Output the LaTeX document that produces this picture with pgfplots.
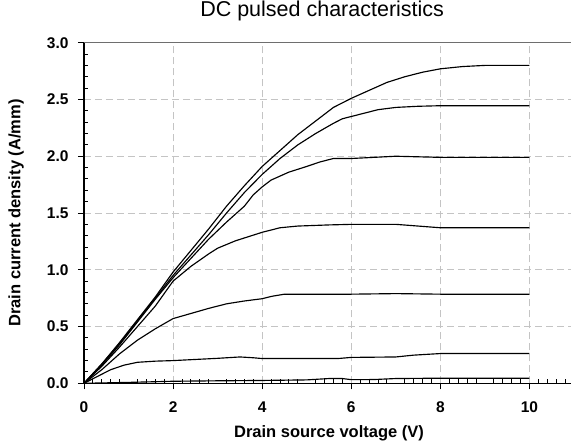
\documentclass[border=0pt]{standalone}
\usepackage{fontspec}
\setmainfont{Liberation Sans}
\usepackage{pgfplots}
\pgfplotsset{compat=1.18}
\definecolor{gridgray}{RGB}{196,196,196}
\definecolor{topgray}{RGB}{110,110,110}
\begin{document}
\begin{tikzpicture}
\useasboundingbox (-84pt,-58.7pt) rectangle (487pt,383.3pt);
\begin{axis}[
  scale only axis,
  width=490pt, height=340.6pt,
  xmin=0, xmax=11, ymin=0, ymax=3,
  axis x line*=bottom, axis y line*=left,
  axis line style={black, line width=1.4pt},
  xtick={0,2,4,6,8,10}, ytick={0,0.5,1,1.5,2,2.5,3},
  tick align=outside,
  major tick length=6pt,
  tick style={black, line width=0.9pt},
  grid=major,
  major grid style={gridgray, line width=0.9pt, dash pattern=on 7pt off 4pt},
  extra x ticks={0.2,0.4,0.6,0.8,1.2,1.4,1.6,1.8,2.2,2.4,2.6,2.8,3.2,3.4,3.6,3.8,4.2,4.4,4.6,4.8,5.2,5.4,5.6,5.8,6.2,6.4,6.6,6.8,7.2,7.4,7.6,7.8,8.2,8.4,8.6,8.8,9.2,9.4,9.6,9.8,10.2,10.4,10.6,10.8},
  extra x tick labels={},
  extra x tick style={grid=none, tick align=inside, major tick length=4pt},
  extra y ticks={0.1,0.2,0.3,0.4,0.6,0.7,0.8,0.9,1.1,1.2,1.3,1.4,1.6,1.7,1.8,1.9,2.1,2.2,2.3,2.4,2.6,2.7,2.8,2.9},
  extra y tick labels={},
  extra y tick style={grid=none, tick align=inside, major tick length=4pt},
  /pgf/number format/assume math mode=true,
  ticklabel style={font=\fontsize{15.5}{15.5}\selectfont\bfseries},
  yticklabel style={xshift=-6pt, /pgf/number format/.cd, fixed, fixed zerofill, precision=1},
  xticklabel style={yshift=-9pt, /pgf/number format/.cd, fixed, precision=0},
  title={DC pulsed characteristics},
  title style={font=\fontsize{21.5}{21.5}\selectfont, at={(axis description cs:0.486,1)}, anchor=base, yshift=20pt},
  xlabel={Drain source voltage (V)},
  xlabel style={font=\fontsize{16.5}{16.5}\selectfont\bfseries, at={(axis description cs:0.5,0)}, anchor=base, yshift=-53.7pt},
  ylabel={Drain current density (A/mm)},
  ylabel style={font=\fontsize{16.5}{16.5}\selectfont\bfseries, at={(axis description cs:-0.1388,0.5)}, anchor=center},
  after end axis/.code={\draw[topgray, line width=1.4pt] (rel axis cs:0,1) -- (rel axis cs:1,1);},
]
% curve 1
\addplot[black, line width=1.15pt, mark=none] coordinates {(0,0) (0.4,0.17) (0.8,0.36) (1.2,0.56) (1.6,0.76) (2,0.98) (2.4,1.17) (2.8,1.36) (3.2,1.56) (3.6,1.74) (4,1.91) (4.4,2.05) (4.8,2.19) (5.2,2.31) (5.6,2.43) (6,2.51) (6.4,2.58) (6.8,2.65) (7.2,2.70) (7.6,2.74) (8,2.77) (8.5,2.79) (9,2.80) (10,2.80)};
% curve 2
\addplot[black, line width=1.15pt, mark=none] coordinates {(0,0) (0.4,0.17) (0.8,0.35) (1.2,0.55) (1.6,0.75) (2,0.95) (2.4,1.13) (2.8,1.31) (3.2,1.50) (3.6,1.68) (4,1.84) (4.4,1.98) (4.8,2.10) (5.2,2.20) (5.6,2.29) (5.8,2.33) (6.2,2.37) (6.6,2.41) (7,2.43) (7.5,2.44) (8,2.445) (10,2.445)};
% curve 3
\addplot[black, line width=1.15pt, mark=none] coordinates {(0,0) (0.4,0.16) (0.8,0.34) (1.2,0.54) (1.6,0.74) (2,0.93) (2.4,1.10) (2.8,1.27) (3.2,1.42) (3.6,1.56) (3.8,1.66) (4,1.73) (4.2,1.79) (4.6,1.86) (5,1.91) (5.3,1.95) (5.6,1.98) (6,1.98) (6.5,1.99) (7,2.0) (7.5,1.995) (8,1.99) (10,1.99)};
% curve 4
\addplot[black, line width=1.15pt, mark=none] coordinates {(0,0) (0.4,0.15) (0.8,0.32) (1.2,0.50) (1.6,0.68) (2,0.90) (2.4,1.03) (2.8,1.14) (3.0,1.19) (3.4,1.255) (3.8,1.305) (4,1.33) (4.4,1.37) (4.8,1.385) (5.5,1.395) (6,1.40) (7,1.40) (7.5,1.385) (8,1.37) (10,1.37)};
% curve 5
\addplot[black, line width=1.15pt, mark=none] coordinates {(0,0) (0.4,0.12) (0.8,0.26) (1.2,0.38) (1.6,0.48) (2,0.57) (2.4,0.615) (2.8,0.66) (3.2,0.70) (3.6,0.725) (4,0.745) (4.2,0.765) (4.5,0.785) (5,0.785) (6,0.785) (7,0.79) (8,0.785) (10,0.785)};
% curve 6
\addplot[black, line width=1.15pt, mark=none] coordinates {(0,0) (0.3,0.06) (0.6,0.12) (0.9,0.16) (1.2,0.185) (1.6,0.195) (2,0.2) (2.5,0.21) (3,0.22) (3.5,0.232) (3.8,0.225) (4,0.218) (5,0.218) (5.7,0.218) (6,0.228) (7,0.232) (7.4,0.248) (8,0.262) (10,0.262)};
% curve 7
\addplot[black, line width=1.15pt, mark=none] coordinates {(0,0) (1,0.008) (2,0.018) (3,0.022) (4,0.025) (5,0.03) (5.5,0.042) (5.8,0.042) (6,0.032) (6.5,0.033) (7,0.042) (8,0.045) (10,0.045)};
\end{axis}
\end{tikzpicture}
\end{document}
